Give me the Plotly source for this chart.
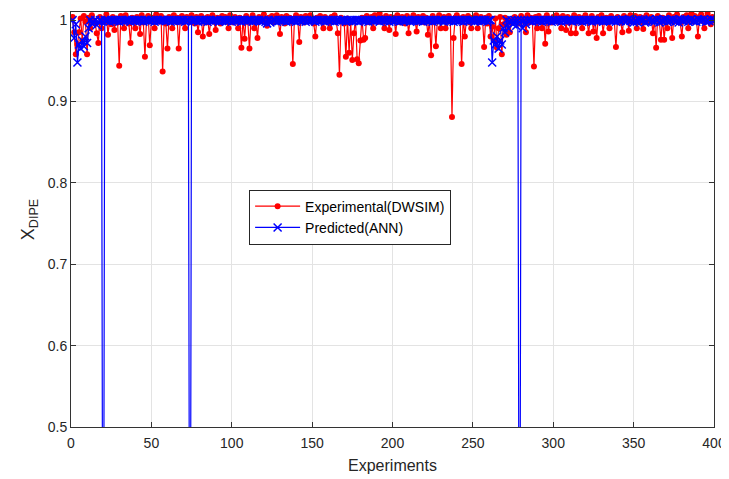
import plotly.graph_objects as go

experiments = list(range(1, 401))

experimental_dwsim = [
    1.004, 0.985, 0.958, 0.970, 0.985, 1.002, 0.975, 1.005, 0.998, 0.958, 1.003, 0.990, 1.006, 1.000, 0.996, 0.984, 0.972, 1.004, 0.990, 1.001,
    0.998, 1.007, 0.982, 1.000, 0.995, 1.004, 0.988, 1.002, 0.997, 0.944, 1.005, 0.999, 0.990, 1.006, 1.001, 0.996, 0.972, 1.003, 0.999, 0.990,
    1.004, 1.000, 0.983, 1.006, 0.997, 0.955, 1.002, 1.005, 0.969, 0.999, 1.003, 0.990, 1.007, 0.998, 1.001, 1.005, 0.937, 1.002, 0.996, 0.965,
    1.004, 1.000, 0.990, 1.006, 0.998, 1.003, 0.965, 1.001, 1.005, 0.997, 0.990, 1.004, 1.000, 0.998, 1.006, 1.002, 0.996, 1.004, 0.985, 1.001,
    1.005, 0.980, 1.002, 0.997, 1.004, 0.983, 1.000, 1.006, 0.998, 0.988, 1.003, 1.001, 0.996, 1.005, 1.000, 1.004, 0.998, 0.990, 1.006, 1.002,
    0.997, 1.004, 1.000, 0.990, 1.003, 0.966, 1.001, 0.977, 1.005, 0.998, 0.965, 1.002, 1.006, 0.990, 1.000, 0.978, 1.004, 0.999, 1.002, 1.007,
    0.998, 0.993, 1.003, 1.000, 1.005, 0.997, 1.002, 1.006, 0.999, 0.983, 1.004, 1.001, 0.996, 1.005, 1.000, 1.003, 0.998, 0.946, 1.002, 1.006,
    1.003, 0.973, 1.004, 1.000, 0.997, 1.005, 1.002, 0.999, 1.006, 1.001, 0.996, 0.980, 1.003, 1.000, 1.005, 0.998, 0.990, 1.004, 1.001, 0.997,
    0.990, 1.004, 1.000, 1.006, 0.998, 0.984, 0.933, 1.003, 1.000, 0.996, 0.955, 1.002, 0.960, 0.997, 0.951, 0.984, 1.001, 0.952, 0.947, 0.975,
    1.003, 0.976, 0.978, 1.005, 1.000, 0.997, 1.004, 0.990, 1.006, 1.001, 0.998, 1.008, 1.003, 1.000, 0.990, 1.005, 1.002, 0.988, 1.004, 0.999,
    1.003, 0.983, 1.006, 1.000, 0.997, 1.004, 1.001, 0.996, 1.005, 0.984, 1.002, 0.999, 1.006, 1.000, 0.986, 1.004, 0.998, 1.002, 1.005, 0.997,
    1.003, 0.982, 1.000, 0.957, 1.005, 0.998, 0.968, 1.002, 1.006, 0.990, 1.001, 1.004, 0.990, 0.998, 1.005, 1.000, 0.881, 0.978, 1.003, 1.006,
    0.999, 1.002, 0.946, 1.004, 0.980, 1.001, 1.005, 0.997, 0.990, 1.003, 1.000, 1.006, 0.990, 0.998, 1.004, 1.001, 0.967, 1.003, 0.996, 1.005,
    0.980, 0.992, 0.975, 1.002, 0.966, 0.990, 1.004, 0.958, 0.995, 1.003, 0.982, 1.000, 0.985, 0.997, 1.002, 1.004, 0.999, 1.001, 0.996, 1.005,
    1.002, 0.999, 0.985, 1.006, 0.997, 1.003, 1.000, 0.943, 1.004, 0.990, 1.005, 0.998, 0.990, 1.002, 0.971, 1.006, 0.986, 1.001, 0.997, 1.004,
    1.000, 1.006, 0.998, 1.003, 0.990, 1.005, 1.001, 0.988, 1.004, 0.997, 0.984, 1.002, 1.006, 0.984, 1.000, 1.004, 0.998, 0.990, 1.003, 1.006,
    0.999, 0.984, 1.002, 1.005, 0.986, 1.001, 0.978, 1.004, 0.998, 1.006, 0.984, 1.000, 1.003, 0.997, 0.990, 1.005, 1.002, 0.999, 0.967, 1.004,
    1.001, 0.997, 0.985, 1.005, 1.000, 1.003, 0.987, 1.006, 0.998, 1.002, 1.005, 0.990, 1.000, 1.004, 0.997, 0.989, 1.003, 1.006, 1.000, 0.998,
    1.004, 0.984, 1.001, 0.966, 1.005, 0.998, 0.976, 1.003, 0.976, 1.000, 0.990, 1.006, 1.002, 0.978, 1.004, 0.999, 1.007, 1.001, 0.997, 0.980,
    1.004, 1.000, 1.006, 0.990, 1.002, 1.008, 0.998, 1.005, 1.001, 0.980, 1.004, 1.007, 0.999, 0.990, 1.003, 1.008, 1.001, 0.995, 1.004, 1.000,
]

predicted_ann = [
    1.000, 0.978, 0.995, 0.948, 0.970, 0.965, 0.975, 0.968, 0.980, 0.972, 0.990, 1.000, 0.996, 0.998, 1.000, 0.994, 0.998, 1.000, 0.999, 0.000,
    1.000, 0.999, 1.000, 0.998, 1.000, 1.000, 0.999, 1.000, 1.000, 0.998, 1.000, 1.000, 0.999, 1.000, 1.000, 1.000, 0.998, 1.000, 1.000, 0.999,
    1.000, 1.000, 0.999, 1.000, 0.998, 1.000, 1.000, 1.000, 0.999, 1.000, 1.000, 0.998, 1.000, 1.000, 0.999, 1.000, 1.000, 1.000, 0.999, 1.000,
    1.000, 0.998, 1.000, 1.000, 0.999, 1.000, 1.000, 0.999, 1.000, 1.000, 0.998, 1.000, 1.000, 0.000, 1.000, 0.999, 1.000, 1.000, 0.998, 1.000,
    1.000, 0.999, 1.000, 1.000, 0.998, 1.000, 1.000, 0.999, 1.000, 1.000, 1.000, 0.998, 1.000, 0.999, 1.000, 1.000, 0.999, 1.000, 1.000, 0.998,
    1.000, 1.000, 0.999, 1.000, 1.000, 0.998, 1.000, 1.000, 0.999, 1.000, 1.000, 1.000, 0.998, 1.000, 0.999, 1.000, 1.000, 0.999, 1.000, 1.000,
    0.998, 0.996, 1.000, 0.997, 0.999, 1.000, 1.000, 0.998, 1.000, 1.000, 0.999, 1.000, 1.000, 0.998, 1.000, 1.000, 0.999, 1.000, 1.000, 0.998,
    1.000, 1.000, 0.999, 1.000, 1.000, 0.998, 1.000, 0.999, 1.000, 1.000, 1.000, 0.998, 1.000, 1.000, 0.999, 1.000, 1.000, 0.998, 1.000, 1.000,
    0.999, 1.000, 1.000, 0.998, 1.000, 1.000, 0.999, 1.000, 1.000, 1.000, 0.998, 1.000, 0.999, 1.000, 1.000, 0.999, 1.000, 1.000, 0.998, 1.000,
    1.000, 0.999, 1.000, 1.000, 0.998, 1.000, 1.000, 0.999, 1.000, 1.000, 1.000, 0.998, 1.000, 1.000, 0.999, 1.000, 1.000, 0.998, 1.000, 1.000,
    0.999, 1.000, 1.000, 0.998, 1.000, 1.000, 0.999, 1.000, 1.000, 1.000, 0.998, 1.000, 0.999, 1.000, 1.000, 0.999, 1.000, 1.000, 0.998, 1.000,
    1.000, 0.999, 1.000, 1.000, 0.998, 1.000, 1.000, 0.999, 1.000, 1.000, 1.000, 0.998, 1.000, 1.000, 0.999, 1.000, 1.000, 0.998, 1.000, 1.000,
    0.999, 1.000, 1.000, 0.998, 1.000, 1.000, 0.999, 1.000, 1.000, 1.000, 0.998, 1.000, 0.999, 1.000, 1.000, 0.999, 1.000, 1.000, 0.998, 1.000,
    1.000, 0.948, 0.975, 0.970, 0.980, 0.965, 0.975, 0.970, 0.990, 0.985, 1.000, 0.990, 0.998, 1.000, 0.995, 1.000, 0.993, 1.000, 0.000, 1.000,
    0.990, 1.000, 0.995, 1.000, 0.999, 1.000, 0.998, 1.000, 1.000, 0.999, 1.000, 1.000, 0.998, 1.000, 1.000, 0.999, 1.000, 1.000, 0.998, 1.000,
    1.000, 0.999, 1.000, 1.000, 0.998, 1.000, 1.000, 0.999, 1.000, 1.000, 1.000, 0.998, 1.000, 1.000, 0.999, 1.000, 1.000, 0.998, 1.000, 1.000,
    0.999, 1.000, 1.000, 0.998, 1.000, 1.000, 0.999, 1.000, 1.000, 1.000, 0.998, 1.000, 0.999, 1.000, 1.000, 0.999, 1.000, 1.000, 0.998, 1.000,
    1.000, 0.999, 1.001, 1.000, 0.998, 1.000, 1.001, 0.999, 1.000, 0.997, 1.000, 0.998, 1.001, 1.000, 0.999, 1.000, 0.997, 0.998, 1.000, 1.001,
    0.999, 1.000, 0.998, 1.001, 1.000, 0.997, 1.000, 0.999, 1.001, 1.000, 0.998, 1.000, 0.999, 1.001, 1.000, 0.998, 1.000, 0.997, 1.001, 1.000,
    0.999, 1.001, 1.000, 0.998, 1.000, 1.001, 0.999, 1.000, 0.998, 1.001, 1.000, 0.999, 1.000, 1.001, 0.998, 1.000, 0.999, 1.001, 1.000, 1.000,
]

x_ticks = [0, 50, 100, 150, 200, 250, 300, 350, 400]
y_ticks = [0.5, 0.6, 0.7, 0.8, 0.9, 1.0]
y_tick_labels = ["0.5", "0.6", "0.7", "0.8", "0.9", "1"]

font_family = "Liberation Sans, Arial, Helvetica, sans-serif"
grey = "#262626"

fig = go.Figure()
fig.add_trace(go.Scatter(
    x=experiments, y=experimental_dwsim, mode="lines+markers",
    name="Experimental(DWSIM)",
    line=dict(color="#ff0000", width=1.2),
    marker=dict(symbol="circle", size=6, color="#ff0000"),
))
fig.add_trace(go.Scatter(
    x=experiments, y=predicted_ann, mode="lines+markers",
    name="Predicted(ANN)",
    line=dict(color="#0000ff", width=1.2),
    marker=dict(symbol="x-thin", size=8, color="#0000ff",
                line=dict(color="#0000ff", width=1.5)),
))

axis_common = dict(
    showline=True, linecolor="#333333", linewidth=1, mirror="ticks",
    ticks="inside", ticklen=5, tickcolor="#333333",
    showgrid=True, gridcolor="#e3e3e3", gridwidth=1,
    zeroline=False,
    ticklabeloverflow="allow",
    tickfont=dict(family=font_family, size=14, color=grey),
)

# The page body adds an 8px margin; the figure is sized to fit the 729x479 window.
fig.update_layout(
    width=721, height=471,
    margin=dict(l=63, r=11, t=3, b=52),
    paper_bgcolor="white", plot_bgcolor="white",
    font=dict(family=font_family, color=grey),
    showlegend=True,
    legend=dict(
        x=0.277, y=0.572, xanchor="left", yanchor="top",
        bgcolor="white", bordercolor="#262626", borderwidth=1,
        font=dict(family=font_family, size=14, color="#000000"),
        tracegroupgap=0, itemwidth=45,
    ),
    xaxis=dict(
        range=[0, 400], tickvals=x_ticks,
        ticklabelstandoff=3,
        title=dict(text="Experiments", font=dict(family=font_family, size=16, color=grey), standoff=10),
        **axis_common,
    ),
    yaxis=dict(
        range=[0.5, 1.01], tickvals=y_ticks, ticktext=y_tick_labels,
        title=dict(text="X<sub>DIPE</sub>", font=dict(family=font_family, size=18, color=grey), standoff=8),
        **axis_common,
    ),
)

fig.write_html("out.html")
